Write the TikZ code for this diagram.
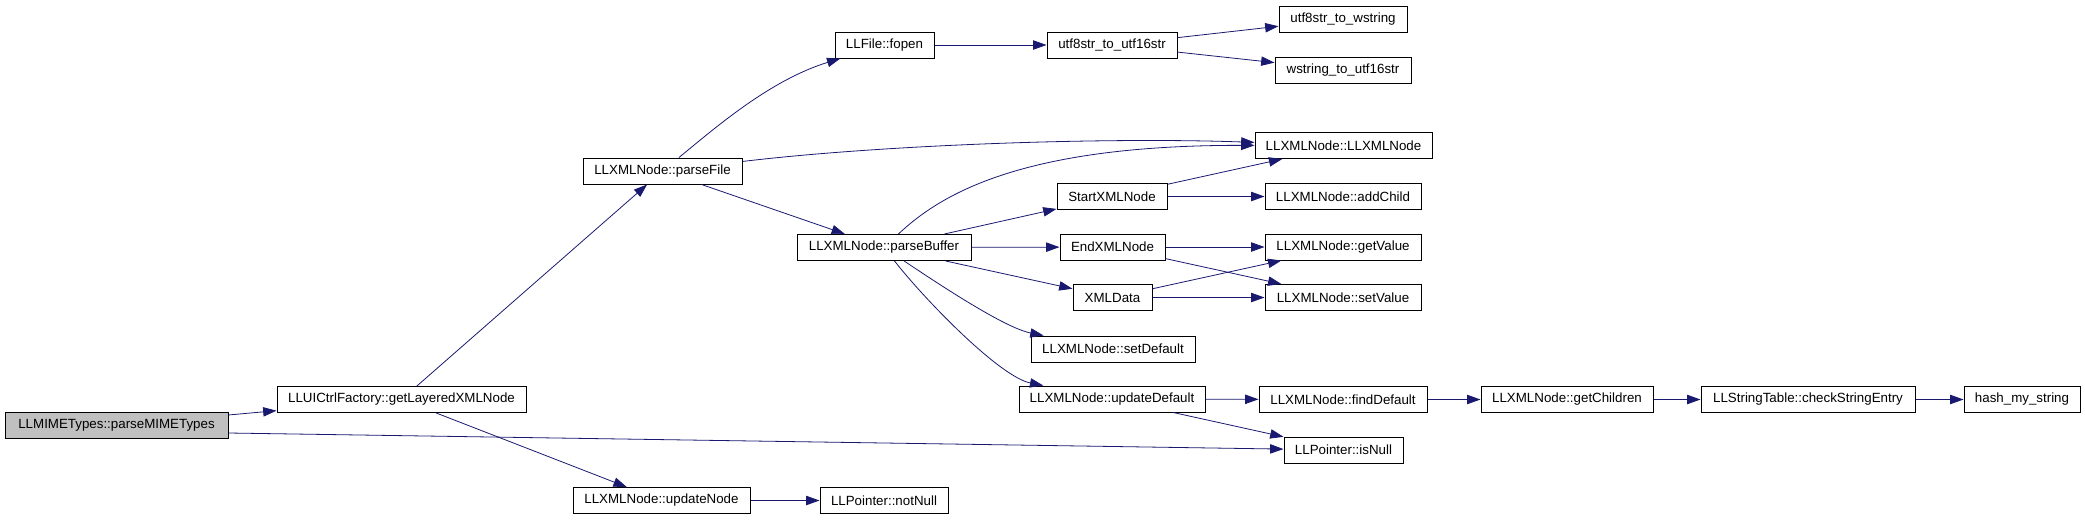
\documentclass[tikz,border=0pt]{standalone}
\usepackage[svgnames]{xcolor}
\usepackage{fontspec}
\setmainfont{Liberation Sans}
\usetikzlibrary{arrows.meta}

\begin{document}
\begin{tikzpicture}[x=0.75pt, y=-0.75pt,
    fnode/.style={rectangle, minimum height=19.5pt, inner sep=2pt, draw=black, line width=0.75pt, fill=white, font=\fontsize{10}{12}\selectfont},
    calls/.style={draw=MidnightBlue, line width=0.6pt, -{Triangle[length=10pt, width=7pt]}}]
    \useasboundingbox (0,0) rectangle (2085,519);
    % callers, left to right
    \node[fnode, fill=Silver, minimum width=167.25pt] (mime) at (116.5,425) {LLMIMETypes::parseMIMETypes};
    \node[fnode, minimum width=186.75pt] (layered) at (401.5,399.5) {LLUICtrlFactory::getLayeredXMLNode};
    \node[fnode, minimum width=119.25pt] (parsefile) at (662.5,171) {LLXMLNode::parseFile};
    \node[fnode, minimum width=132.75pt] (updatenode) at (661.5,500.5) {LLXMLNode::updateNode};
    \node[fnode, minimum width=74.25pt] (fopen) at (884.5,45) {LLFile::fopen};
    \node[fnode, minimum width=130.5pt] (parsebuffer) at (884,247.5) {LLXMLNode::parseBuffer};
    \node[fnode, minimum width=96pt] (notnull) at (884,500.5) {LLPointer::notNull};
    \node[fnode, minimum width=97.5pt] (utf16) at (1112,45) {utf8str\_to\_utf16str};
    \node[fnode, minimum width=82.5pt] (startxml) at (1112,196.5) {StartXMLNode};
    \node[fnode, minimum width=78.75pt] (endxml) at (1112.5,247) {EndXMLNode};
    \node[fnode, minimum width=59.25pt] (xmldata) at (1112.5,297.5) {XMLData};
    \node[fnode, minimum width=123pt] (setdefault) at (1113,349) {LLXMLNode::setDefault};
    \node[fnode, minimum width=139.5pt] (updatedefault) at (1112,399) {LLXMLNode::updateDefault};
    \node[fnode, minimum width=96pt] (wstring) at (1343,19) {utf8str\_to\_wstring};
    \node[fnode, minimum width=102pt] (toutf16) at (1343,70) {wstring\_to\_utf16str};
    \node[fnode, minimum width=132.75pt] (ctor) at (1343.5,145.5) {LLXMLNode::LLXMLNode};
    \node[fnode, minimum width=117pt] (addchild) at (1343,196.5) {LLXMLNode::addChild};
    \node[fnode, minimum width=117pt] (getvalue) at (1343,247) {LLXMLNode::getValue};
    \node[fnode, minimum width=117pt] (setvalue) at (1343,297.5) {LLXMLNode::setValue};
    \node[fnode, minimum width=126pt] (finddefault) at (1343,399.5) {LLXMLNode::findDefault};
    \node[fnode, minimum width=89.25pt] (isnull) at (1343.5,450) {LLPointer::isNull};
    \node[fnode, minimum width=129pt] (getchildren) at (1567,399.5) {LLXMLNode::getChildren};
    \node[fnode, minimum width=160.5pt] (checkstring) at (1808,399.5) {LLStringTable::checkStringEntry};
    \node[fnode, minimum width=87pt] (hash) at (2022,399.5) {hash\_my\_string};
    % call edges
    \draw[calls] (mime) -- (layered);
    \draw[calls] ([yshift=-6pt]mime.east) -- (isnull);
    \draw[calls] (layered) -- (parsefile);
    \draw[calls] (layered) -- (updatenode);
    \draw[calls] (parsefile) .. controls (715,128) and (770,80) .. (fopen);
    \draw[calls] (parsefile) .. controls (880,145) and (1100,137) .. (ctor);
    \draw[calls] (parsefile) -- (parsebuffer);
    \draw[calls] (updatenode) -- (notnull);
    \draw[calls] (fopen) -- (utf16);
    \draw[calls] (utf16) -- (wstring);
    \draw[calls] (utf16) -- (toutf16);
    \draw[calls] (parsebuffer) .. controls (940,195) and (1020,145) .. (ctor);
    \draw[calls] (parsebuffer) -- (startxml);
    \draw[calls] (parsebuffer) -- (endxml);
    \draw[calls] (parsebuffer) -- (xmldata);
    \draw[calls] (parsebuffer) .. controls (940,285) and (1005,328) .. (setdefault);
    \draw[calls] (parsebuffer) .. controls (925,300) and (1000,377) .. (updatedefault);
    \draw[calls] (startxml) -- (ctor);
    \draw[calls] (startxml) -- (addchild);
    \draw[calls] (endxml) -- (getvalue);
    \draw[calls] (endxml) -- (setvalue);
    \draw[calls] (xmldata) -- (getvalue);
    \draw[calls] (xmldata) -- (setvalue);
    \draw[calls] (updatedefault) -- (finddefault);
    \draw[calls] (updatedefault) -- (isnull);
    \draw[calls] (finddefault) -- (getchildren);
    \draw[calls] (getchildren) -- (checkstring);
    \draw[calls] (checkstring) -- (hash);
\end{tikzpicture}
\end{document}
